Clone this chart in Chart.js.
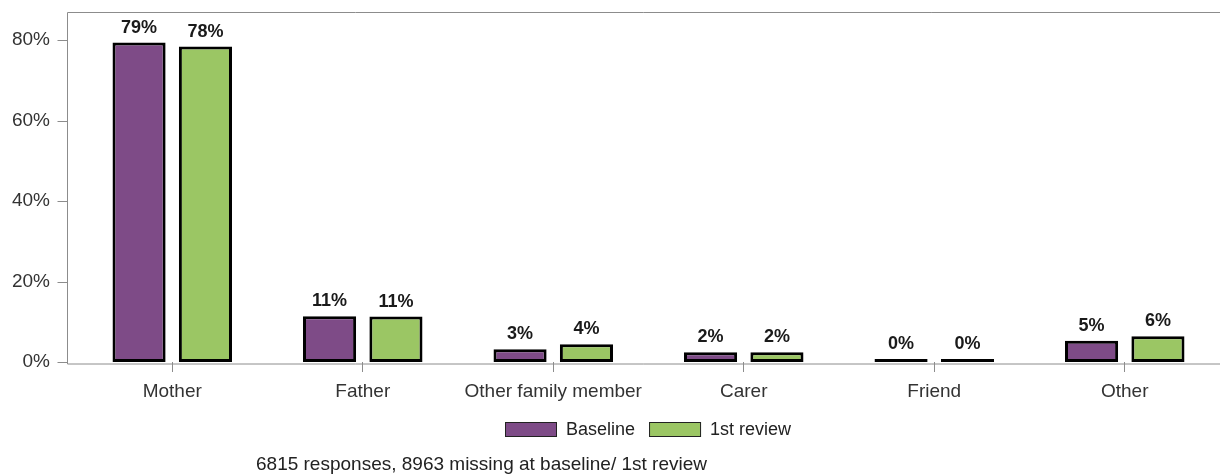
<!DOCTYPE html>
<html>
<head>
<meta charset="utf-8">
<script src="https://cdn.jsdelivr.net/npm/chart.js@4.4.1/dist/chart.umd.min.js"></script>
<style>
  html, body { margin: 0; padding: 0; background: #fff; }
  #wrap { width: 1220px; height: 474px; position: relative; }
</style>
</head>
<body>
<div id="wrap"><canvas id="relChart"></canvas></div>
<script>
/* ================================================
   DATA
================================================ */
const categories = ['Mother', 'Father', 'Other family member', 'Carer', 'Friend', 'Other'];
const baseline   = [79.4, 11.4, 3.2, 2.4, 0.3, 5.3];
const review1    = [78.4, 11.3, 4.4, 2.4, 0.3, 6.4];
const yTicks     = [0, 20, 40, 60, 80];
const footnote   = '6815 responses, 8963 missing at baseline/ 1st review';

const PURPLE = '#7e4b87';
const GREEN  = '#9bc664';
const FRAME  = '#8c8c8c';
const FONT   = "'Liberation Sans', Arial, sans-serif";

/* ================================================
   PLUGINS
================================================ */
// frame line, y tick marks, legend and footnote
const framePlugin = {
  id: 'frame',
  afterDraw(chart) {
    const { ctx, chartArea: a, scales: { y } } = chart;
    const fx = 67.5;
    ctx.save();
    ctx.strokeStyle = FRAME;
    ctx.lineWidth = 1;
    ctx.beginPath();
    ctx.moveTo(1220, a.top + 0.5);
    ctx.lineTo(fx, a.top + 0.5);
    ctx.lineTo(fx, a.bottom + 2);
    ctx.lineTo(1220, a.bottom + 2);
    yTicks.forEach(v => {
      const py = Math.round(y.getPixelForValue(v)) + 0.5;
      ctx.moveTo(fx - 10, py);
      ctx.lineTo(fx, py);
    });
    ctx.stroke();

    // legend, centred under the plot area
    ctx.font = `18px ${FONT}`;
    ctx.textBaseline = 'middle';
    ctx.textAlign = 'left';
    const boxW = 52, boxH = 15, gap = 9, space = 14;
    const items = chart.data.datasets.map(ds => ({
      text: ds.label, color: ds.backgroundColor, w: boxW + gap + ctx.measureText(ds.label).width,
    }));
    const total = items.reduce((s, it) => s + it.w, 0) + space * (items.length - 1);
    let lx = Math.round((a.left + a.right) / 2 - total / 2);
    const ly = 422;
    items.forEach(it => {
      ctx.fillStyle = it.color;
      ctx.fillRect(lx, ly, boxW, boxH);
      ctx.strokeStyle = '#222';
      ctx.strokeRect(lx + 0.5, ly + 0.5, boxW - 1, boxH - 1);
      ctx.fillStyle = '#222';
      ctx.fillText(it.text, lx + boxW + gap, ly + boxH / 2 + 1);
      lx += it.w + space;
    });

    ctx.font = `19px ${FONT}`;
    ctx.textBaseline = 'alphabetic';
    ctx.fillText(footnote, 256, 470);
    ctx.restore();
  }
};

// bold value labels above bars
const valueLabels = {
  id: 'valueLabels',
  afterDatasetsDraw(chart) {
    const { ctx } = chart;
    ctx.save();
    ctx.fillStyle = '#1a1a1a';
    ctx.font = `bold 18px ${FONT}`;
    ctx.textAlign = 'center';
    ctx.textBaseline = 'alphabetic';
    chart.data.datasets.forEach((ds, i) => {
      chart.getDatasetMeta(i).data.forEach((bar, j) => {
        ctx.fillText(Math.round(ds.data[j]) + '%', bar.x, bar.y - 10);
      });
    });
    ctx.restore();
  }
};

/* ================================================
   CHART
================================================ */
const barStyle = {
  borderColor: '#000',
  borderWidth: 3,
  borderSkipped: false,
  minBarLength: 3,
  categoryPercentage: 0.697,
  barPercentage: 0.8,
};

new Chart(document.getElementById('relChart'), {
  type: 'bar',
  data: {
    labels: categories,
    datasets: [
      { label: 'Baseline',   data: baseline, backgroundColor: PURPLE, ...barStyle },
      { label: '1st review', data: review1,  backgroundColor: GREEN,  ...barStyle },
    ],
  },
  options: {
    responsive: true,
    maintainAspectRatio: false,
    animation: false,
    layout: { padding: { top: 12, right: 0, left: 0, bottom: 62 } },
    plugins: {
      legend: { display: false },
      tooltip: { enabled: false },
    },
    scales: {
      x: {
        grid: { drawOnChartArea: false, offset: false, tickLength: 10, color: FRAME },
        border: { display: false },
        ticks: { color: '#333', padding: 8, font: { family: FONT, size: 19 } },
        afterFit: s => { s.height = 50; },
      },
      y: {
        min: 0,
        max: 87,
        grid: { display: false, drawTicks: false },
        border: { display: false },
        ticks: {
          stepSize: 20,
          padding: 27,
          color: '#333',
          font: { family: FONT, size: 19 },
          callback: v => v + '%',
        },
        afterBuildTicks: s => { s.ticks = yTicks.map(v => ({ value: v })); },
        afterFit: s => { s.width = 77; s.paddingTop = 0; s.paddingBottom = 0; },
      },
    },
  },
  plugins: [framePlugin, valueLabels],
});
</script>
</body>
</html>
